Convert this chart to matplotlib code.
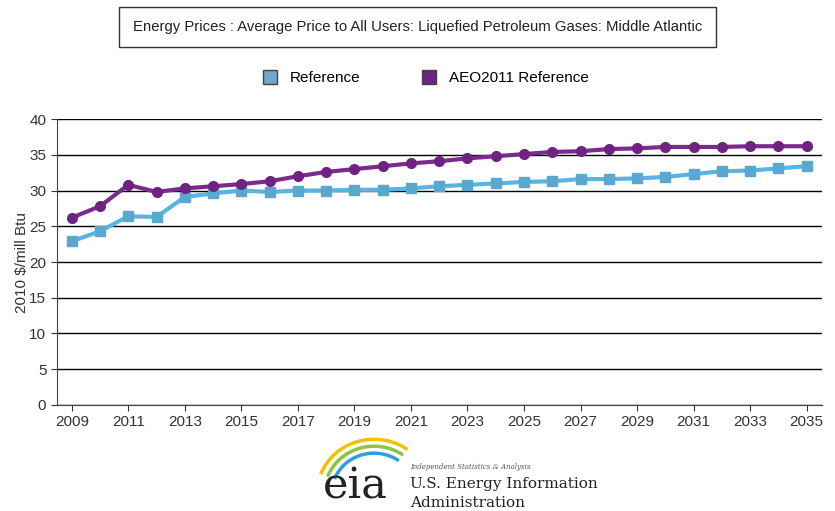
import numpy as np
import matplotlib
matplotlib.use("Agg")
import matplotlib.pyplot as plt
from matplotlib.patches import Arc

years = np.arange(2009, 2036)
reference = [22.9, 24.3, 26.4, 26.3, 29.1, 29.6, 30.0, 29.8, 30.0, 30.0, 30.1, 30.1, 30.3,
             30.6, 30.8, 31.0, 31.2, 31.3, 31.6, 31.6, 31.7, 31.9, 32.3, 32.7, 32.8, 33.1, 33.4]
aeo2011 = [26.2, 27.8, 30.8, 29.8, 30.3, 30.6, 30.9, 31.3, 32.0, 32.6, 33.0, 33.4, 33.8,
           34.1, 34.5, 34.8, 35.1, 35.4, 35.5, 35.8, 35.9, 36.1, 36.1, 36.1, 36.2, 36.2, 36.2]
title = "Energy Prices : Average Price to All Users: Liquefied Petroleum Gases: Middle Atlantic"

plt.rcParams['font.family'] = ['Liberation Sans', 'DejaVu Sans']

fig = plt.figure(figsize=(8.35, 5.11), dpi=100)
ax = fig.add_axes([0.068, 0.2075, 0.916, 0.5595])

ax.plot(years, reference, color='#5ab4e0', lw=3, marker='s', ms=7,
        markerfacecolor='#5aa8d0', markeredgecolor='#5aa8d0', label='Reference', zorder=3)
ax.plot(years, aeo2011, color='#7b2a8e', lw=3, marker='o', ms=7,
        markerfacecolor='#6e2380', markeredgecolor='#6e2380', label='AEO2011 Reference', zorder=4)

ax.set_xlim(2008.47, 2035.53)
ax.set_ylim(0, 40)
ax.set_xticks(np.arange(2009, 2036, 2))
ax.set_yticks(np.arange(0, 41, 5))
ax.yaxis.grid(True, color='black', lw=1)
ax.set_axisbelow(True)
for s in ['top', 'right']:
    ax.spines[s].set_visible(False)
ax.spines['left'].set_color('#444444')
ax.spines['bottom'].set_color('#444444')
ax.tick_params(labelsize=11, colors='#333333', length=4)
ax.set_ylabel('2010 $/mill Btu', fontsize=11, color='#333333', labelpad=0)

# title box
fig.text(0.5, 0.947, title, ha='center', va='center', fontsize=10.7, color='#222222',
         bbox=dict(boxstyle='square,pad=0.9', fc='white', ec='#333333', lw=1))

# legend
leg = fig.legend(handles=[
    plt.Line2D([], [], ls='none', marker='s', ms=10, mfc='#6fa8c8', mec='#444444'),
    plt.Line2D([], [], ls='none', marker='s', ms=10, mfc='#6e2380', mec='#444444')],
    labels=['Reference', 'AEO2011 Reference'], loc='center', bbox_to_anchor=(0.505, 0.847),
    ncol=2, frameon=False, fontsize=11, handletextpad=0.3, columnspacing=3.5)

# eia logo
fig.text(0.425, 0.048, 'eia', fontsize=31, family='DejaVu Serif', color='#222222',
         ha='center', va='center')
for r, c in [(0.062, '#f2c200'), (0.054, '#8cc63f'), (0.046, '#2e9fd8')]:
    fig.add_artist(Arc((0.448, 0.035), r * 2.2, r * 3.4, theta1=65, theta2=150,
                       transform=fig.transFigure, color=c, lw=2.5))
fig.text(0.491, 0.083, 'Independent Statistics & Analysis', fontsize=5, style='italic',
         family='DejaVu Serif', color='#555555')
fig.text(0.491, 0.045, 'U.S. Energy Information', fontsize=11, family='DejaVu Serif', color='#222222')
fig.text(0.491, 0.008, 'Administration', fontsize=11, family='DejaVu Serif', color='#222222')

fig.savefig('out.png', dpi=100)
